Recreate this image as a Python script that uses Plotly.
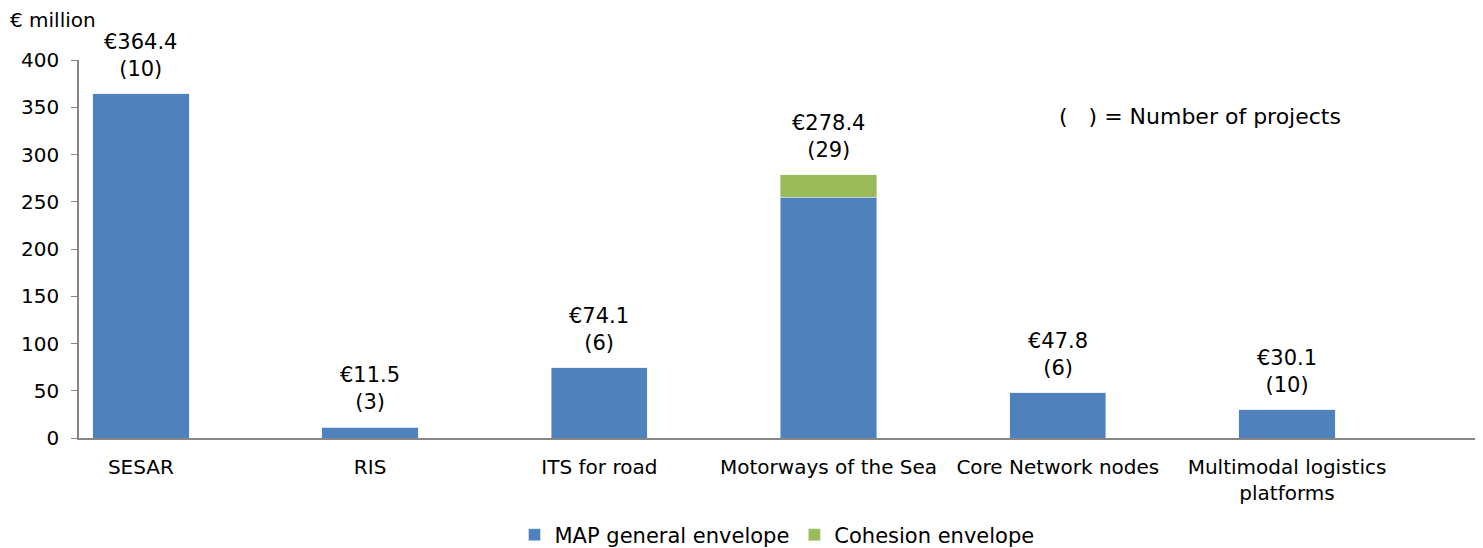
import plotly.graph_objects as go

categories = ["SESAR", "RIS", "ITS for road", "Motorways of the Sea",
              "Core Network nodes", "Multimodal logistics<br>platforms"]
map_general = [364.4, 11.5, 74.1, 255.0, 47.8, 30.1]
cohesion = [0, 0, 0, 23.4, 0, 0]
totals = [364.4, 11.5, 74.1, 278.4, 47.8, 30.1]
projects = [10, 3, 6, 29, 6, 10]
y_ticks = [0, 50, 100, 150, 200, 250, 300, 350, 400]

FONT = "DejaVu Sans"
BLUE = "#4F81BD"
GREEN = "#9BBB59"

# page body has an 8px margin; compensate so the plot lands where the reference has it
L, T, PW, PH = 71, 52, 1396, 378
W, H = 1475, 540

fig = go.Figure()
fig.add_trace(go.Bar(x=categories, y=map_general, name="MAP general envelope",
                     marker_color=BLUE, width=0.42))
fig.add_trace(go.Bar(x=categories, y=cohesion, name="Cohesion envelope",
                     marker_color=GREEN, width=0.42))

for c, t, p in zip(categories, totals, projects):
    fig.add_annotation(x=c, y=t, text=f"€{t:.1f}<br>({p})", showarrow=False,
                       yanchor="bottom", yshift=11,
                       font=dict(family=FONT, size=21, color="#000000"))

fig.add_annotation(xref="paper", yref="paper", x=(0 - L) / PW, y=(T + PH - 12) / PH,
                   xanchor="left", yanchor="middle", text="€ million", showarrow=False,
                   font=dict(family=FONT, size=20, color="#000000"))
fig.add_annotation(xref="paper", yref="paper", x=(1049 - L) / PW, y=(T + PH - 108) / PH,
                   xanchor="left", yanchor="middle",
                   text="(   ) = Number of projects", showarrow=False,
                   font=dict(family=FONT, size=22, color="#000000"))

fig.update_layout(
    width=W, height=H,
    margin=dict(l=L, r=W - L - PW, t=T, b=H - T - PH, autoexpand=False),
    paper_bgcolor="white", plot_bgcolor="white",
    barmode="stack",
    font=dict(family=FONT, size=20, color="#000000"),
    showlegend=True,
    legend=dict(orientation="h", x=0.5, xanchor="center",
                y=-(527 - (T + PH)) / PH, yanchor="middle",
                traceorder="normal", font=dict(family=FONT, size=21),
                itemwidth=30),
    xaxis=dict(type="category", range=[-0.27, 5.82], showline=True,
               linecolor="#868686", linewidth=1.5, ticks="", showgrid=False,
               ticklabelstandoff=10, automargin=False,
               tickfont=dict(family=FONT, size=20)),
    yaxis=dict(range=[0, 400], tickvals=y_ticks, showline=True,
               linecolor="#868686", linewidth=1.5, ticks="outside",
               ticklen=6, tickcolor="#868686", showgrid=False, zeroline=False,
               automargin=False, ticklabelstandoff=8,
               tickfont=dict(family=FONT, size=20)),
)

fig.write_html("out.html")
